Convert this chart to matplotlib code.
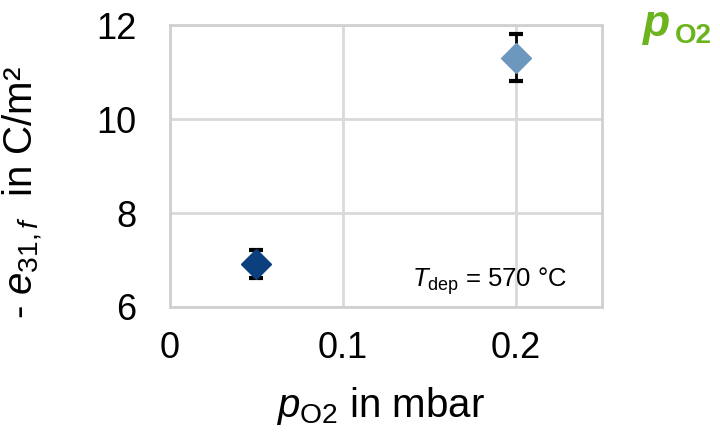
import matplotlib
matplotlib.use("Agg")
import matplotlib.pyplot as plt

plt.rcParams['font.family'] = ['Liberation Sans', 'DejaVu Sans']
plt.rcParams['mathtext.fontset'] = 'custom'
plt.rcParams['mathtext.rm'] = 'Liberation Sans'
plt.rcParams['mathtext.it'] = 'Liberation Sans:italic'
plt.rcParams['mathtext.bf'] = 'Liberation Sans:bold'

# data
p_o2 = [0.05, 0.2]
e31 = [6.92, 11.31]
e31_err = [0.30, 0.50]
point_colors = ['#0B3F7D', '#6D98BE']

x_ticks = [0, 0.1, 0.2]
x_ticklabels = ['0', '0.1', '0.2']
y_ticks = [6, 8, 10, 12]

fig = plt.figure(figsize=(7.2, 4.33), dpi=100)
ax = fig.add_axes([0.236, 0.291, 0.600, 0.651])

for x, y, err, c in zip(p_o2, e31, e31_err, point_colors):
    ax.errorbar([x], [y], yerr=[err], fmt='none', ecolor='black',
                elinewidth=2, capsize=5, capthick=3, zorder=3)
    ax.plot([x], [y], marker='D', markersize=15, color=c,
            markeredgecolor=c, linestyle='none', zorder=4)

ax.set_xlim(0, 0.25)
ax.set_ylim(6, 12)
ax.set_xticks(x_ticks)
ax.set_xticklabels(x_ticklabels)
ax.set_yticks(y_ticks)
ax.tick_params(length=0, labelsize=26)
ax.tick_params(axis='x', pad=17)
ax.tick_params(axis='y', pad=24)

ax.grid(True, color='#D9D9D9', linewidth=2)
ax.set_axisbelow(True)
for s in ax.spines.values():
    s.set_color('#D0D0D0')
    s.set_linewidth(2)

ax.set_xlabel(r'$p_{\mathrm{O2}}$ in mbar', fontsize=29)
ax.xaxis.set_label_coords(0.488, -0.275)
ax.set_ylabel(r'- $e_{31,f}$  in C/m²', fontsize=29)
ax.yaxis.set_label_coords(-0.29, 0.405)

ax.text(0.74, 0.071, r'$T_{\mathrm{dep}}$ = 570 °C', transform=ax.transAxes,
        fontsize=18.5, ha='center', va='baseline')

fig.text(0.893, 0.918, 'p', color='#6CB41E', fontsize=32,
         fontweight='bold', fontstyle='italic', ha='left', va='baseline')
fig.text(0.937, 0.901, 'O2', color='#6CB41E', fontsize=20,
         fontweight='bold', ha='left', va='baseline')

fig.savefig('out.png', dpi=100)
